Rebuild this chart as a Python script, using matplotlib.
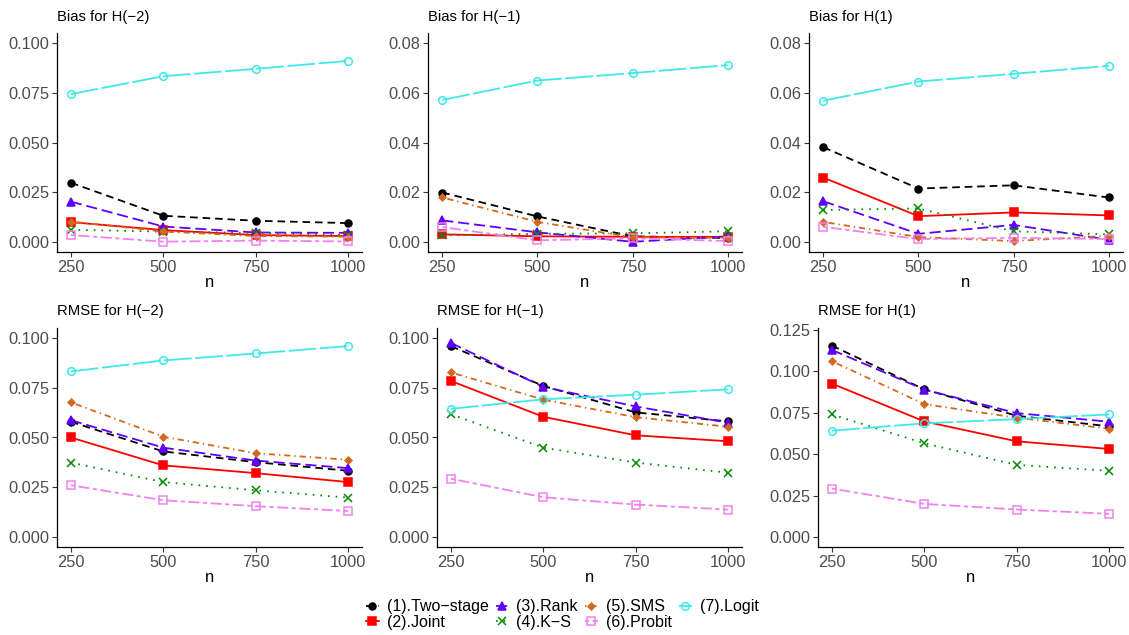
import matplotlib
matplotlib.use("Agg")
import matplotlib.pyplot as plt
from matplotlib.ticker import FixedLocator, FormatStrFormatter
from matplotlib.lines import Line2D

plt.rcParams['font.family'] = ['Liberation Sans', 'DejaVu Sans']
plt.rcParams['lines.scale_dashes'] = False

n = [250, 500, 750, 1000]

methods = ["(1).Two\u2212stage", "(2).Joint", "(3).Rank", "(4).K\u2212S",
           "(5).SMS", "(6).Probit", "(7).Logit"]

# bias, H(-2)
bias_m2 = [
    [0.0298, 0.0132, 0.0107, 0.0095],
    [0.0100, 0.0060, 0.0035, 0.0030],
    [0.0203, 0.0078, 0.0048, 0.0046],
    [0.0062, 0.0052, 0.0046, 0.0035],
    [0.0103, 0.0053, 0.0030, 0.0027],
    [0.0035, 0.0002, 0.0007, 0.0003],
    [0.0743, 0.0833, 0.0870, 0.0910],
]
# bias, H(-1)
bias_m1 = [
    [0.0199, 0.0103, 0.0023, 0.0016],
    [0.0031, 0.0023, 0.0021, 0.0021],
    [0.0087, 0.0039, 0.0001, 0.0023],
    [0.0027, 0.0033, 0.0035, 0.0043],
    [0.0179, 0.0081, 0.0019, 0.0017],
    [0.0060, 0.0007, 0.0015, 0.0004],
    [0.0571, 0.0649, 0.0679, 0.0711],
]
# bias, H(1)
bias_p1 = [
    [0.0381, 0.0215, 0.0228, 0.0179],
    [0.0259, 0.0104, 0.0119, 0.0107],
    [0.0164, 0.0033, 0.0069, 0.0009],
    [0.0129, 0.0135, 0.0043, 0.0031],
    [0.0081, 0.0020, 0.0004, 0.0025],
    [0.0061, 0.0012, 0.0017, 0.0012],
    [0.0568, 0.0645, 0.0676, 0.0708],
]
# rmse, H(-2)
rmse_m2 = [
    [0.0579, 0.0430, 0.0376, 0.0333],
    [0.0500, 0.0360, 0.0321, 0.0276],
    [0.0587, 0.0449, 0.0384, 0.0346],
    [0.0374, 0.0276, 0.0235, 0.0198],
    [0.0677, 0.0504, 0.0421, 0.0388],
    [0.0260, 0.0185, 0.0155, 0.0131],
    [0.0832, 0.0887, 0.0922, 0.0959],
]
# rmse, H(-1)
rmse_m1 = [
    [0.0959, 0.0759, 0.0626, 0.0581],
    [0.0784, 0.0604, 0.0511, 0.0481],
    [0.0975, 0.0754, 0.0656, 0.0574],
    [0.0617, 0.0449, 0.0374, 0.0323],
    [0.0827, 0.0690, 0.0602, 0.0554],
    [0.0293, 0.0200, 0.0163, 0.0138],
    [0.0644, 0.0692, 0.0715, 0.0742],
]
# rmse, H(1)
rmse_p1 = [
    [0.1154, 0.0890, 0.0731, 0.0667],
    [0.0925, 0.0697, 0.0577, 0.0531],
    [0.1128, 0.0889, 0.0747, 0.0695],
    [0.0739, 0.0565, 0.0435, 0.0399],
    [0.1060, 0.0801, 0.0719, 0.0653],
    [0.0292, 0.0200, 0.0166, 0.0140],
    [0.0641, 0.0685, 0.0711, 0.0739],
]

colors = ["black", "#FF0000", "#5E00FF", "#008B00", "#D2691E", "#EE82EE", "#3EE8E8"]
markers = ["o", "s", "^", "x", "D", "s", "o"]
msizes = [5, 5.5, 6, 6, 3.5, 5.5, 5.5]
filled = [True, True, True, True, True, False, False]
dashes = [(0, (5.5, 3.5)), "-", (0, (8, 3.5)), (0, (1.2, 4.3)),
          (0, (1, 2.8, 4.5, 2.8)), (0, (3, 2.5, 8, 2.5)), (0, (20, 2.5))]

panels = [
    ("Bias for H(\u22122)", bias_m2, 0.1, [0, 0.025, 0.05, 0.075, 0.1], "%.3f"),
    ("Bias for H(\u22121)", bias_m1, 0.08, [0, 0.02, 0.04, 0.06, 0.08], "%.2f"),
    ("Bias for H(1)", bias_p1, 0.08, [0, 0.02, 0.04, 0.06, 0.08], "%.2f"),
    ("RMSE for H(\u22122)", rmse_m2, 0.1, [0, 0.025, 0.05, 0.075, 0.1], "%.3f"),
    ("RMSE for H(\u22121)", rmse_m1, 0.1, [0, 0.025, 0.05, 0.075, 0.1], "%.3f"),
    ("RMSE for H(1)", rmse_p1, 0.12, [0, 0.025, 0.05, 0.075, 0.1, 0.125], "%.3f"),
]

# pixel boxes of each panel (left, right, top, bottom)
W, H = 1129, 635
boxes = [(57, 362, 33, 252), (428, 742, 33, 252), (809, 1123, 33, 252),
         (57, 362, 328, 547), (437, 742, 328, 547), (818, 1123, 328, 547)]

fig = plt.figure(figsize=(W / 100, H / 100), dpi=100)

for (title, data, ymax, yticks, fmt), (l, r, t, b) in zip(panels, boxes):
    ax = fig.add_axes([l / W, 1 - b / H, (r - l) / W, (b - t) / H])
    for i in range(7):
        ax.plot(n, data[i], color=colors[i], lw=1.3, linestyle=dashes[i], zorder=2)
        ax.plot(n, data[i], linestyle="none", marker=markers[i], ms=msizes[i],
                color=colors[i], mfc=colors[i] if filled[i] else "none",
                mew=1.1, zorder=3)
    ax.set_xlim(212.5, 1037.5)
    ax.set_ylim(-0.05 * ymax, 1.05 * ymax)
    ax.set_xticks(n)
    ax.yaxis.set_major_locator(FixedLocator(yticks))
    ax.yaxis.set_major_formatter(FormatStrFormatter(fmt))
    ax.spines["top"].set_visible(False)
    ax.spines["right"].set_visible(False)
    for s in ["left", "bottom"]:
        ax.spines[s].set_linewidth(0.9)
    ax.tick_params(labelsize=11.8, labelcolor="#4D4D4D", color="#333333",
                   length=3.5, width=0.8, pad=2)
    ax.set_xlabel("n", fontsize=12, labelpad=0)
    ax.set_title(title, loc="left", fontsize=10.7, pad=9)

handles = []
for i in range(7):
    handles.append(Line2D([0], [0], color=colors[i], lw=1.3, linestyle=dashes[i],
                          marker=markers[i], ms=msizes[i],
                          mfc=colors[i] if filled[i] else "none", mew=1.1))
fig.legend(handles, methods, loc="center", bbox_to_anchor=(0.498, 0.032), ncol=4,
           frameon=False, fontsize=11.5, handlelength=0.8, handletextpad=0.5,
           columnspacing=0.45, labelspacing=0.05, borderpad=0)

fig.savefig("out.png", dpi=100)
